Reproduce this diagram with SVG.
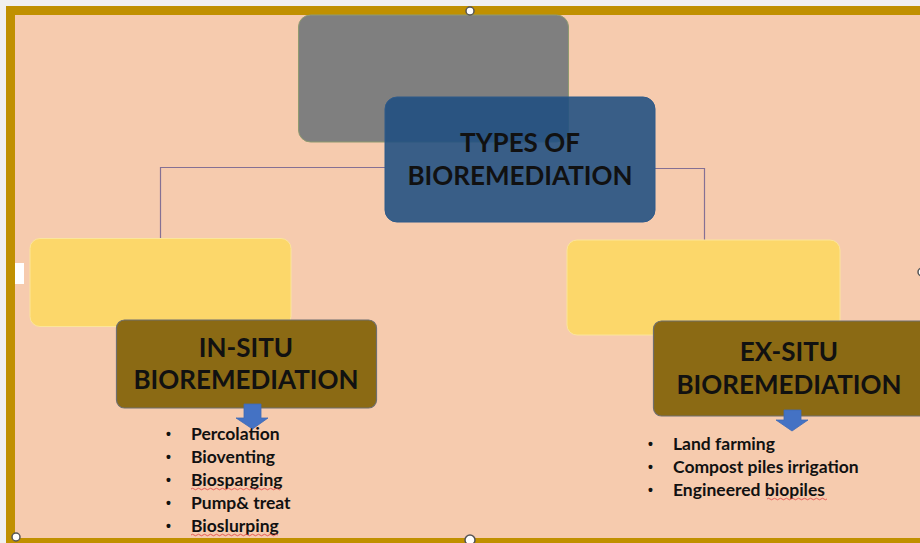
<svg xmlns="http://www.w3.org/2000/svg" width="920" height="543" viewBox="0 0 920 543">
<defs>
<style>
.hdr{font-family:Lato,"Open Sans","Liberation Sans",sans-serif;font-weight:700;font-size:26px;fill:#111;text-anchor:middle}
.item{font-family:Lato,"Open Sans","Liberation Sans",sans-serif;font-weight:700;font-size:17.5px;fill:#111}
.dot{font-family:"Liberation Sans",sans-serif;font-weight:700;font-size:14px;fill:#111}
.conn{fill:none;stroke:#857094;stroke-width:1.2}
.yellow{fill:#FCD76A;stroke:#FBE59A;stroke-width:1}
.brown{fill:#8B6A14;stroke:#6f6f6f;stroke-width:1.2}
.arrow{fill:#4472C4;stroke:#3F6AB5;stroke-width:0.8}
.squig{fill:none;stroke:#e04040;stroke-width:0.8}
.handle{fill:#fff;stroke:#555;stroke-width:1.5}
</style>
</defs>
<rect x="0" y="0" width="920" height="543" fill="#f0f0f0"/>
<rect x="6" y="6" width="914" height="537" fill="#C09000"/>
<rect x="15" y="15" width="905" height="523" fill="#F6CBAE"/>

<g id="connectors">
<path class="conn" d="M160.5 238 V167.5 H385"/>
<path class="conn" d="M655 168.5 H704.5 V240"/>
</g>

<g id="node-gray">
<rect x="298.5" y="15" width="270" height="127" rx="12" fill="#7F7F7F" stroke="#8f9a70" stroke-width="1"/>
</g>

<g id="node-types">
<rect x="385" y="97" width="270" height="125" rx="12" fill="#1F4E82" fill-opacity="0.88" stroke="#2E5A8A" stroke-width="1"/>
<text class="hdr" x="520" y="152">TYPES OF</text>
<text class="hdr" x="520" y="185">BIOREMEDIATION</text>
</g>

<g id="node-yellow-left">
<rect class="yellow" x="30" y="238.5" width="261" height="88" rx="10"/>
</g>
<g id="node-yellow-right">
<rect class="yellow" x="567" y="240" width="273" height="95" rx="10"/>
</g>

<g id="node-insitu">
<rect class="brown" x="116.5" y="320" width="260" height="88" rx="8"/>
<text class="hdr" x="246" y="357">IN-SITU</text>
<text class="hdr" x="246" y="389">BIOREMEDIATION</text>
<path class="arrow" d="M244 404 H261 V418 H268 L252.5 429 L236 418 H244 Z"/>
</g>

<g id="node-exsitu">
<rect class="brown" x="653.5" y="321" width="280" height="95" rx="8"/>
<text class="hdr" x="789" y="361">EX-SITU</text>
<text class="hdr" x="789" y="394">BIOREMEDIATION</text>
<path class="arrow" d="M784 410 H801 V420 H808 L792 431 L776 420 H784 Z"/>
</g>

<g id="list-insitu">
<text class="dot" x="166" y="439">•</text><text class="item" x="191" y="440">Percolation</text>
<text class="dot" x="166" y="462">•</text><text class="item" x="191" y="463">Bioventing</text>
<text class="dot" x="166" y="485">•</text><text class="item" x="191" y="486">Biosparging</text>
<text class="dot" x="166" y="508">•</text><text class="item" x="191" y="509">Pump&amp; treat</text>
<text class="dot" x="166" y="531">•</text><text class="item" x="191" y="532">Bioslurping</text>
<path class="squig" d="M191 489 q1.5 -1.5 3 0 t3 0 t3 0 t3 0 t3 0 t3 0 t3 0 t3 0 t3 0 t3 0 t3 0 t3 0 t3 0 t3 0 t3 0 t3 0 t3 0 t3 0 t3 0 t3 0 t3 0 t3 0 t3 0 t3 0 t3 0 t3 0 t3 0 t3 0 t3 0 t3 0"/>
<path class="squig" d="M191 535 q1.5 -1.5 3 0 t3 0 t3 0 t3 0 t3 0 t3 0 t3 0 t3 0 t3 0 t3 0 t3 0 t3 0 t3 0 t3 0 t3 0 t3 0 t3 0 t3 0 t3 0 t3 0 t3 0 t3 0 t3 0 t3 0 t3 0 t3 0 t3 0 t3 0 t3 0"/>
</g>

<g id="list-exsitu">
<text class="dot" x="648" y="449">•</text><text class="item" x="673" y="450">Land farming</text>
<text class="dot" x="648" y="472">•</text><text class="item" x="673" y="473">Compost piles irrigation</text>
<text class="dot" x="648" y="495">•</text><text class="item" x="673" y="496">Engineered biopiles</text>
<path class="squig" d="M767 499 q1.5 -1.5 3 0 t3 0 t3 0 t3 0 t3 0 t3 0 t3 0 t3 0 t3 0 t3 0 t3 0 t3 0 t3 0 t3 0 t3 0 t3 0 t3 0 t3 0 t3 0 t3 0"/>
</g>

<g id="handles">
<rect x="15" y="263" width="9" height="21" fill="#fff"/>
<circle class="handle" cx="470" cy="540" r="5"/>
<circle class="handle" cx="16" cy="537" r="4"/>
<circle class="handle" cx="922" cy="272" r="4"/>
<circle class="handle" cx="470" cy="11" r="4"/>
</g>
</svg>
